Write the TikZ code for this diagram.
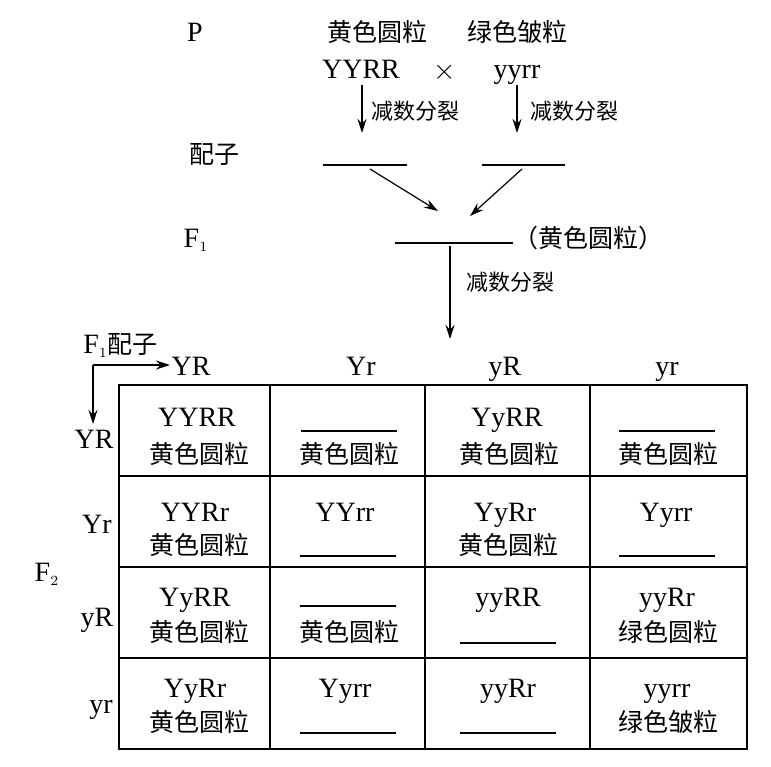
\documentclass[tikz,border=0pt]{standalone}
\usepackage{fontspec}
\setmainfont{Liberation Serif}
\newfontfamily\cjk{Noto Sans CJK SC}
\usetikzlibrary{arrows.meta}

\tikzset{
  gene/.style={inner sep=0pt, text height=10pt, text depth=1pt, font=\fontsize{14}{16}\selectfont},
  hanzi/.style={inner sep=0pt, font=\cjk\fontsize{12.5}{15}\selectfont},
  smallhz/.style={inner sep=0pt, font=\cjk\fontsize{11}{13}\selectfont},
  arr/.style={-{Stealth[length=7pt,width=4.5pt]}, line width=0.6pt},
  blank/.style={line width=0.6pt},
  grid/.style={line width=0.9pt},
}

\begin{document}
\begin{tikzpicture}[x=0.5pt,y=-0.5pt]
\useasboundingbox (0,0) rectangle (771,766);

% parents
\node[gene] (P) at (195,32) {P};
\node[hanzi] (yellow) at (377,32) {黄色圆粒};
\node[hanzi] (green) at (517,32) {绿色皱粒};
\node[gene] (pa) at (361,69) {YYRR};
\node[gene] (cross) at (445,70) {$\times$};
\node[gene] (pb) at (517,69) {yyrr};

\coordinate (ga1) at (362,85);
\coordinate (ga2) at (362,133);
\coordinate (gb1) at (517,85);
\coordinate (gb2) at (517,133);
\draw[arr] (ga1) -- (ga2);
\draw[arr] (gb1) -- (gb2);
\node[smallhz] (mei1) at (415,111) {减数分裂};
\node[smallhz] (mei2) at (574,111) {减数分裂};

% gametes
\node[hanzi] (gam) at (214,154) {配子};
\coordinate (gl1) at (323,165);
\coordinate (gl2) at (407,165);
\coordinate (gr1) at (482,165);
\coordinate (gr2) at (565,165);
\draw[blank] (gl1) -- (gl2);
\draw[blank] (gr1) -- (gr2);

\coordinate (dl1) at (370,169);
\coordinate (dl2) at (438,211);
\coordinate (dr1) at (522,169);
\coordinate (dr2) at (470,216);
\draw[arr] (dl1) -- (dl2);
\draw[arr] (dr1) -- (dr2);

% F1
\node[gene] (F1) at (196,238) {F$_{\scriptscriptstyle 1}$};
\coordinate (f1a) at (395,243);
\coordinate (f1b) at (513,243);
\draw[blank] (f1a) -- (f1b);
\node[hanzi, anchor=west] (f1ph) at (513,238) {（黄色圆粒）};
\coordinate (m1) at (450,246);
\coordinate (m2) at (450,339);
\draw[arr] (m1) -- (m2);
\node[smallhz] (mei3) at (510,282) {减数分裂};

% F1 gametes corner
\node[gene, anchor=west] (f1gam) at (83,344) {F$_{\scriptscriptstyle 1}$\cjk\fontsize{12.5}{15}\selectfont 配子};
\coordinate (corner) at (93,365);
\coordinate (right) at (170,365);
\coordinate (down) at (93,424);
\draw[arr] (corner) -- (right);
\draw[arr] (corner) -- (down);

% column heads
\node[gene] (cYR) at (191,366) {YR};
\node[gene] (cYr) at (361,366) {Yr};
\node[gene] (cyR) at (505,366) {yR};
\node[gene] (cyr) at (667,366) {yr};

% row heads
\node[gene] (rYR) at (94,439) {YR};
\node[gene] (rYr) at (97,524) {Yr};
\node[gene] (ryR) at (97,617) {yR};
\node[gene] (ryr) at (101,704) {yr};
\node[gene] (F2) at (47,572) {F$_{\scriptscriptstyle 2}$};

% table
\draw[grid] (119,385) rectangle (747,749);
\foreach \x in {270,425,590}
  \draw[grid] (\x,385) -- (\x,749);
\foreach \y in {476,567,658}
  \draw[grid] (119,\y) -- (747,\y);

% row 1
\node[gene] (g11) at (197,417) {YYRR};
\node[hanzi] (p11) at (199,454) {黄色圆粒};
\node[hanzi] (p12) at (349,454) {黄色圆粒};
\node[gene] (g13) at (507,417) {YyRR};
\node[hanzi] (p13) at (509,454) {黄色圆粒};
\node[hanzi] (p14) at (668,454) {黄色圆粒};
% row 2
\node[gene] (g21) at (195,512) {YYRr};
\node[hanzi] (p21) at (199,545) {黄色圆粒};
\node[gene] (g22) at (345,512) {YYrr};
\node[gene] (g23) at (505,512) {YyRr};
\node[hanzi] (p23) at (508,545) {黄色圆粒};
\node[gene] (g24) at (666,512) {Yyrr};
% row 3
\node[gene] (g31) at (195,597) {YyRR};
\node[hanzi] (p31) at (199,632) {黄色圆粒};
\node[hanzi] (p32) at (349,632) {黄色圆粒};
\node[gene] (g33) at (508,597) {yyRR};
\node[gene] (g34) at (667,597) {yyRr};
\node[hanzi] (p34) at (668,632) {绿色圆粒};
% row 4
\node[gene] (g41) at (195,688) {YyRr};
\node[hanzi] (p41) at (199,722) {黄色圆粒};
\node[gene] (g42) at (345,688) {Yyrr};
\node[gene] (g43) at (508,688) {yyRr};
\node[gene] (g44) at (667,688) {yyrr};
\node[hanzi] (p44) at (668,722) {绿色皱粒};

% blanks to fill in
\foreach \x/\y in {349/431, 667/431, 348/556, 667/556, 348/606, 508/643, 348/733, 508/733}
  \draw[blank] (\x-48,\y) -- (\x+48,\y);
\end{tikzpicture}
\end{document}
